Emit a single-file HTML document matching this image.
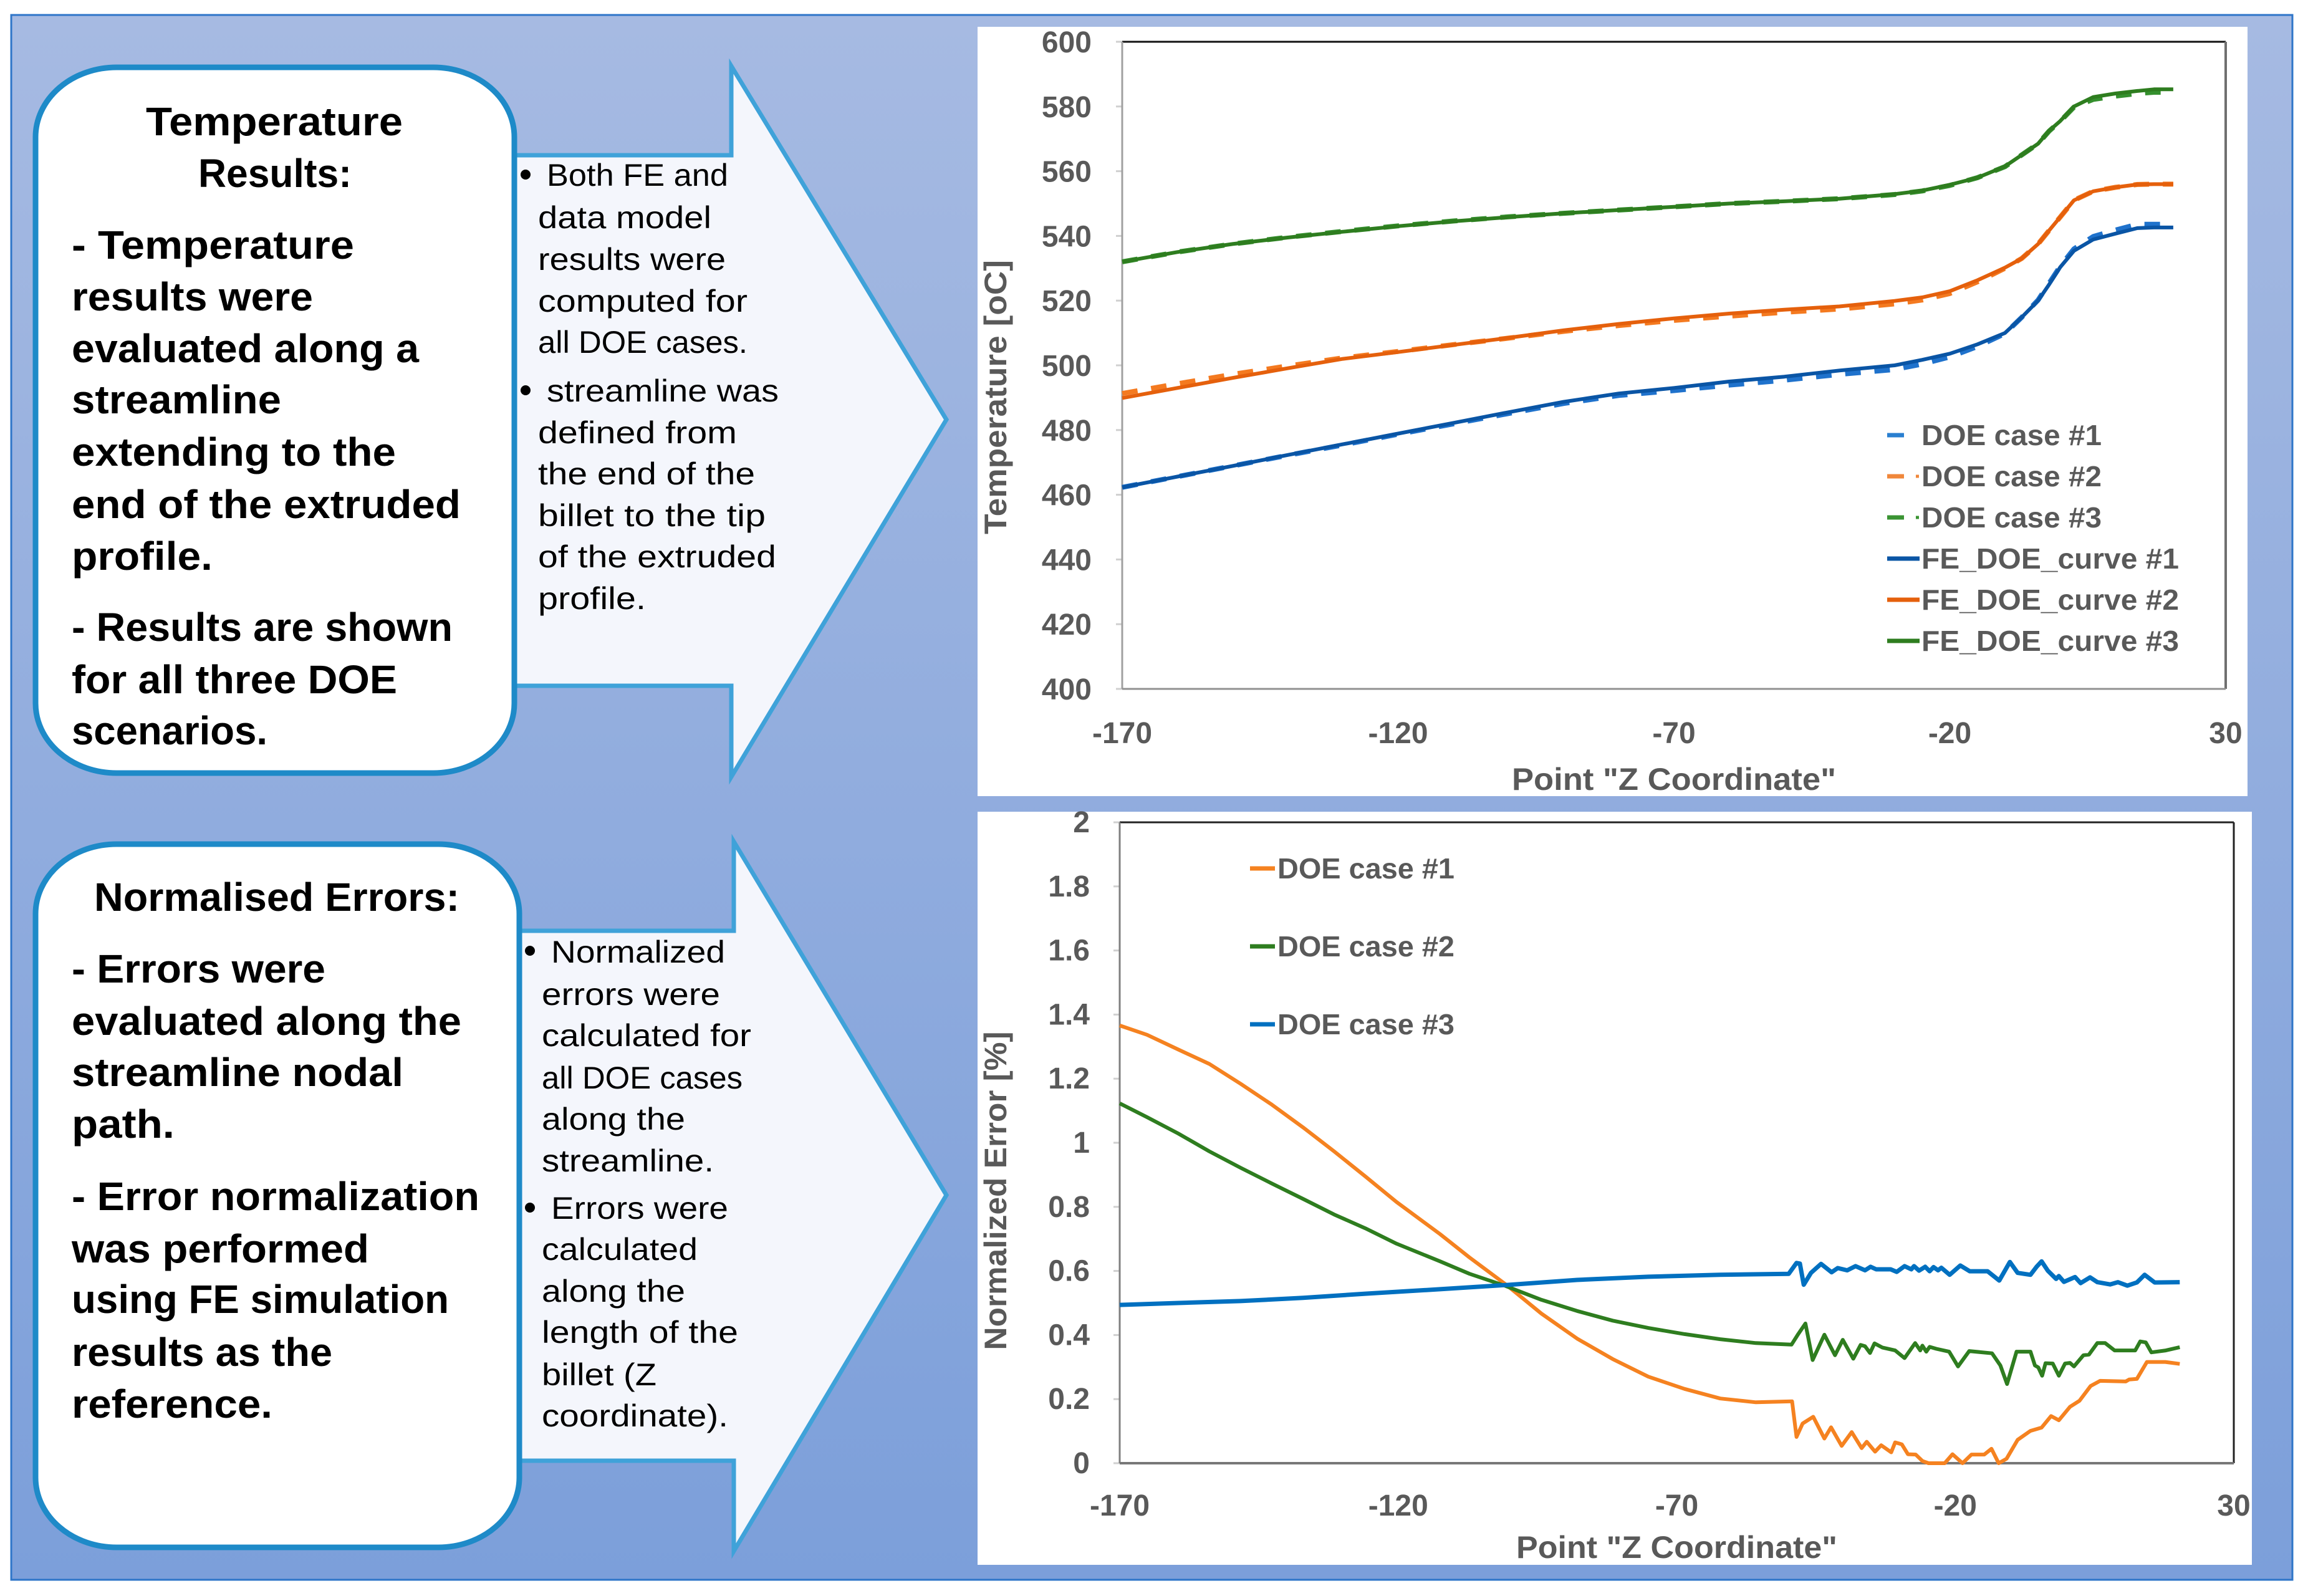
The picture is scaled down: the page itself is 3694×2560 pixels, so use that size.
<!DOCTYPE html>
<html lang="en">
<head>
<meta charset="utf-8">
<title>Temperature Results and Normalised Errors</title>
<style>
html,body{margin:0;padding:0;background:#fff;width:3694px;height:2560px;overflow:hidden}
svg{display:block}
text{font-family:"Liberation Sans",sans-serif}
.h{font-size:64px;font-weight:bold;fill:#000}
.b{font-size:50px;fill:#000}
.t{font-size:48px;font-weight:bold;fill:#595959}
.a{font-size:50px;font-weight:bold;fill:#595959}
.l{font-size:46px;font-weight:bold;fill:#595959}
</style>
</head>
<body>
<svg id="root" xmlns="http://www.w3.org/2000/svg" width="3694" height="2560" viewBox="0 0 3694 2560">
<defs>
<linearGradient id="bg" x1="0" y1="0" x2="0" y2="1">
<stop offset="0" stop-color="#a6bae2"/>
<stop offset="1" stop-color="#7c9fda"/>
</linearGradient>
</defs>
<rect x="18" y="24" width="3659" height="2510" fill="url(#bg)" stroke="#2e75c8" stroke-width="3"/>

<g>
<polygon points="825,249 1173,249 1173,106 1518,673 1173,1246 1173,1100 825,1100" fill="#f4f6fc" stroke="#3fa2d9" stroke-width="7" stroke-miterlimit="10"/>
<circle cx="843" cy="280" r="8" fill="#000"/>
<text class="b" x="877" y="298" textLength="291" lengthAdjust="spacingAndGlyphs">Both FE and</text>
<text class="b" x="863" y="366" textLength="278" lengthAdjust="spacingAndGlyphs">data model</text>
<text class="b" x="863" y="433" textLength="301" lengthAdjust="spacingAndGlyphs">results were</text>
<text class="b" x="863" y="500" textLength="336" lengthAdjust="spacingAndGlyphs">computed for</text>
<text class="b" x="863" y="566" textLength="336" lengthAdjust="spacingAndGlyphs">all DOE cases.</text>
<circle cx="843" cy="626" r="8" fill="#000"/>
<text class="b" x="877" y="644" textLength="372" lengthAdjust="spacingAndGlyphs">streamline was</text>
<text class="b" x="863" y="711" textLength="319" lengthAdjust="spacingAndGlyphs">defined from</text>
<text class="b" x="863" y="777" textLength="348" lengthAdjust="spacingAndGlyphs">the end of the</text>
<text class="b" x="863" y="844" textLength="365" lengthAdjust="spacingAndGlyphs">billet to the tip</text>
<text class="b" x="863" y="910" textLength="382" lengthAdjust="spacingAndGlyphs">of the extruded</text>
<text class="b" x="863" y="977" textLength="173" lengthAdjust="spacingAndGlyphs">profile.</text>
</g>

<g>
<rect x="57" y="108" width="768" height="1132" rx="130" ry="112" fill="#fff" stroke="#1e8ac8" stroke-width="9"/>
<text class="h" x="234" y="217" textLength="412" lengthAdjust="spacingAndGlyphs">Temperature</text>
<text class="h" x="318" y="300" textLength="246" lengthAdjust="spacingAndGlyphs">Results:</text>
<text class="h" x="115" y="415" textLength="453" lengthAdjust="spacingAndGlyphs">- Temperature</text>
<text class="h" x="115" y="498" textLength="387" lengthAdjust="spacingAndGlyphs">results were</text>
<text class="h" x="115" y="581" textLength="557" lengthAdjust="spacingAndGlyphs">evaluated along a</text>
<text class="h" x="115" y="663" textLength="336" lengthAdjust="spacingAndGlyphs">streamline</text>
<text class="h" x="115" y="747" textLength="520" lengthAdjust="spacingAndGlyphs">extending to the</text>
<text class="h" x="115" y="831" textLength="624" lengthAdjust="spacingAndGlyphs">end of the extruded</text>
<text class="h" x="115" y="914" textLength="226" lengthAdjust="spacingAndGlyphs">profile.</text>
<text class="h" x="115" y="1028" textLength="611" lengthAdjust="spacingAndGlyphs">- Results are shown</text>
<text class="h" x="115" y="1112" textLength="522" lengthAdjust="spacingAndGlyphs">for all three DOE</text>
<text class="h" x="115" y="1194" textLength="314" lengthAdjust="spacingAndGlyphs">scenarios.</text>
</g>

<g>
<polygon points="833,1493 1177,1493 1177,1350 1518,1917 1177,2488 1177,2343 833,2343" fill="#f4f6fc" stroke="#3fa2d9" stroke-width="7" stroke-miterlimit="10"/>
<circle cx="850" cy="1525" r="8" fill="#000"/>
<text class="b" x="884" y="1544" textLength="279" lengthAdjust="spacingAndGlyphs">Normalized</text>
<text class="b" x="869" y="1612" textLength="286" lengthAdjust="spacingAndGlyphs">errors were</text>
<text class="b" x="869" y="1678" textLength="336" lengthAdjust="spacingAndGlyphs">calculated for</text>
<text class="b" x="869" y="1746" textLength="322" lengthAdjust="spacingAndGlyphs">all DOE cases</text>
<text class="b" x="869" y="1812" textLength="230" lengthAdjust="spacingAndGlyphs">along the</text>
<text class="b" x="869" y="1879" textLength="276" lengthAdjust="spacingAndGlyphs">streamline.</text>
<circle cx="850" cy="1937" r="8" fill="#000"/>
<text class="b" x="884" y="1955" textLength="284" lengthAdjust="spacingAndGlyphs">Errors were</text>
<text class="b" x="869" y="2021" textLength="250" lengthAdjust="spacingAndGlyphs">calculated</text>
<text class="b" x="869" y="2088" textLength="230" lengthAdjust="spacingAndGlyphs">along the</text>
<text class="b" x="869" y="2154" textLength="315" lengthAdjust="spacingAndGlyphs">length of the</text>
<text class="b" x="869" y="2222" textLength="184" lengthAdjust="spacingAndGlyphs">billet (Z</text>
<text class="b" x="869" y="2288" textLength="299" lengthAdjust="spacingAndGlyphs">coordinate).</text>
</g>

<g>
<rect x="57" y="1354" width="776" height="1128" rx="130" ry="112" fill="#fff" stroke="#1e8ac8" stroke-width="9"/>
<text class="h" x="151" y="1461" textLength="586" lengthAdjust="spacingAndGlyphs">Normalised Errors:</text>
<text class="h" x="115" y="1576" textLength="407" lengthAdjust="spacingAndGlyphs">- Errors were</text>
<text class="h" x="115" y="1660" textLength="625" lengthAdjust="spacingAndGlyphs">evaluated along the</text>
<text class="h" x="115" y="1742" textLength="532" lengthAdjust="spacingAndGlyphs">streamline nodal</text>
<text class="h" x="115" y="1825" textLength="165" lengthAdjust="spacingAndGlyphs">path.</text>
<text class="h" x="115" y="1941" textLength="654" lengthAdjust="spacingAndGlyphs">- Error normalization</text>
<text class="h" x="115" y="2025" textLength="477" lengthAdjust="spacingAndGlyphs">was performed</text>
<text class="h" x="115" y="2106" textLength="605" lengthAdjust="spacingAndGlyphs">using FE simulation</text>
<text class="h" x="115" y="2191" textLength="418" lengthAdjust="spacingAndGlyphs">results as the</text>
<text class="h" x="115" y="2274" textLength="322" lengthAdjust="spacingAndGlyphs">reference.</text>
</g>

<g id="tempChart">
<rect x="1568" y="43" width="2037" height="1234" fill="#fff"/>
<text class="a" transform="translate(1614,637) rotate(-90)" text-anchor="middle" textLength="440" lengthAdjust="spacingAndGlyphs">Temperature [oC]</text>
<text class="a" x="2425" y="1267" textLength="520" lengthAdjust="spacingAndGlyphs">Point "Z Coordinate"</text>
</g>

<g id="errChart">
<rect x="1568" y="1302" width="2044" height="1208" fill="#fff"/>
<text class="a" transform="translate(1614,1910) rotate(-90)" text-anchor="middle" textLength="511" lengthAdjust="spacingAndGlyphs">Normalized Error [%]</text>
<text class="a" x="2432" y="2499" textLength="515" lengthAdjust="spacingAndGlyphs">Point "Z Coordinate"</text>
</g>
</svg>

<script>
const tempTicksY = [400,420,440,460,480,500,520,540,560,580,600];
const tempTicksX = [-170,-120,-70,-20,30];
const tempZ = [-170,-160,-150,-140,-130,-120,-110,-100,-90,-80,-70,-60,-50,-40,-30,-25,-20,-15,-10,-7,-4,-2,0,2.5,6,10,14,17,20.5];
const doe1Temp = [462.3,465.6,468.9,472.2,475.4,478.7,481.9,485.1,488.2,490.7,492.2,493.9,495.4,497.2,498.7,500.4,502.6,505.8,509.8,514.8,520.2,525.4,530.6,536,539.8,541.8,543.6,543.6,543.6];
const doe2Temp = [491.3,494.3,497.2,499.8,502.3,504.3,506.4,508.4,510.5,512.3,513.9,515.2,516.4,517.4,519,520.2,522.2,525.8,530,533,537.5,541.7,545.8,551,553.8,555,555.9,556,556];
const doe3Temp = [532,535,537.5,539.6,541.4,543.1,544.6,545.9,547,548,549,550,550.7,551.5,552.8,553.9,555.6,558,561.4,565,568.5,572.4,575.4,579.8,582.2,583.2,584,584.4,584.4];
const fe1Temp = [462.3,465.6,468.9,472.3,475.6,478.9,482.2,485.5,488.7,491.3,493,495,496.5,498.4,500,501.7,503.6,506.5,510,514.8,520,525,530.3,535.4,538.9,540.7,542.4,542.6,542.6];
const fe2Temp = [489.9,493,496.1,499.1,502,504.1,506.3,508.5,510.8,512.8,514.5,516,517.2,518.2,519.9,521,522.9,526.3,530.2,533,537.5,541.7,545.8,551,553.8,555,555.9,556,556];
const fe3Temp = [532,535,537.5,539.5,541.3,543,544.5,545.8,547,548,549,550,550.7,551.5,552.9,554,555.8,558,561.5,565,568.5,572.5,575.5,580,582.9,584,584.8,585.3,585.3];
const tempLegendLabels = ["DOE case #1","DOE case #2","DOE case #3","FE_DOE_curve #1","FE_DOE_curve #2","FE_DOE_curve #3"];

const errTicksY = ["0","0.2","0.4","0.6","0.8","1","1.2","1.4","1.6","1.8","2"];
const errTicksX = [-170,-120,-70,-20,30];
const errLegendLabels = ["DOE case #1","DOE case #2","DOE case #3"];
const case1Z = [-170,-165.1,-159.5,-153.9,-148.3,-142.7,-137.1,-131.5,-125.9,-120.3,-112.5,-107.2,-100.7,-94.3,-87.9,-81.5,-75.1,-68.6,-62.2,-55.8,-49.3,-48.5,-47.4,-45.5,-43.5,-42.3,-40.4,-38.6,-36.8,-35.9,-34.4,-33.3,-31.5,-30.8,-29.6,-28.5,-27.1,-25.9,-24.8,-21.9,-20.5,-18.7,-17.1,-14.8,-13.5,-12.2,-10.8,-8.8,-6.5,-4.5,-2.8,-1.4,0.6,2.3,4.3,6,10.6,11.2,12.6,14.4,17.7,20.3];
const case1Err = [1.366,1.337,1.291,1.246,1.184,1.119,1.048,0.973,0.895,0.815,0.715,0.642,0.558,0.467,0.389,0.325,0.27,0.232,0.202,0.19,0.193,0.082,0.124,0.145,0.077,0.112,0.054,0.097,0.047,0.067,0.036,0.056,0.034,0.065,0.059,0.028,0.027,0.007,0,0,0.028,0,0.027,0.027,0.045,0,0.014,0.073,0.101,0.111,0.147,0.134,0.176,0.195,0.241,0.257,0.255,0.261,0.263,0.316,0.316,0.31];
const case2Z = [-170,-165.1,-159.5,-153.9,-148.3,-142.7,-137.1,-131.5,-125.9,-120.3,-112.5,-107.2,-100.7,-94.3,-87.9,-81.5,-75.1,-68.6,-62.2,-55.8,-49.4,-48.2,-46.9,-45.6,-43.5,-41.6,-40.2,-38.3,-37,-36.2,-35.3,-34.5,-33.1,-30.8,-29.1,-27.2,-26.3,-25.9,-25.2,-24.6,-23.4,-21.1,-19.5,-17.5,-13.4,-11.9,-10.7,-9,-6.5,-5.7,-5.1,-4.4,-3.8,-2.5,-1.4,-0.3,0.6,1.3,3,4,5.5,6.9,8.6,12.3,13.2,14.2,15.2,17.8,20.3];
const case2Err = [1.123,1.08,1.029,0.973,0.922,0.873,0.825,0.776,0.733,0.685,0.63,0.591,0.553,0.51,0.475,0.445,0.422,0.403,0.387,0.375,0.37,0.403,0.436,0.322,0.401,0.337,0.385,0.326,0.369,0.365,0.344,0.374,0.361,0.352,0.328,0.375,0.352,0.367,0.348,0.363,0.357,0.348,0.302,0.35,0.343,0.305,0.247,0.348,0.348,0.305,0.299,0.273,0.312,0.311,0.273,0.311,0.313,0.302,0.337,0.339,0.375,0.375,0.352,0.352,0.38,0.377,0.346,0.352,0.362];
const case3Z = [-170,-159.5,-148.3,-137.1,-125.9,-112.5,-100.7,-87.9,-75.1,-62.2,-49.9,-48.5,-47.9,-47.2,-45.9,-44.1,-42.2,-41.1,-39.4,-37.9,-36.2,-35.2,-34.2,-31.6,-30.5,-29.1,-27.9,-27.4,-26.5,-25.4,-24.6,-23.9,-23.1,-22.5,-21,-19.1,-17.4,-14.2,-12.1,-10.2,-8.8,-6.5,-5.4,-4.5,-3.4,-1.9,-1.4,-0.5,1.5,2.5,4.2,5.5,7.8,9.2,10.9,12.6,14,15.8,20.3];
const case3Err = [0.494,0.5,0.506,0.516,0.529,0.543,0.556,0.572,0.582,0.588,0.591,0.625,0.623,0.557,0.594,0.622,0.596,0.609,0.602,0.615,0.602,0.613,0.605,0.605,0.597,0.615,0.605,0.615,0.601,0.613,0.599,0.612,0.602,0.61,0.588,0.617,0.599,0.599,0.57,0.628,0.594,0.588,0.613,0.63,0.601,0.575,0.584,0.566,0.581,0.562,0.58,0.565,0.558,0.565,0.554,0.564,0.588,0.564,0.565];

const NS = 'http://www.w3.org/2000/svg';

function makeScale(d0, d1, p0, p1) {
  return function (v) { return p0 + (v - d0) / (d1 - d0) * (p1 - p0); };
}
function seg(parent, x1, y1, x2, y2, color, width) {
  const el = document.createElementNS(NS, 'line');
  el.setAttribute('x1', x1);
  el.setAttribute('y1', y1);
  el.setAttribute('x2', x2);
  el.setAttribute('y2', y2);
  el.setAttribute('stroke', color);
  el.setAttribute('stroke-width', width);
  parent.appendChild(el);
  return el;
}
function label(parent, cls, x, y, str, anchor) {
  const el = document.createElementNS(NS, 'text');
  el.setAttribute('class', cls);
  el.setAttribute('x', x);
  el.setAttribute('y', y);
  if (anchor) el.setAttribute('text-anchor', anchor);
  el.textContent = str;
  parent.appendChild(el);
  return el;
}
function series(parent, xs, ys, sx, sy, color, width, dash) {
  const el = document.createElementNS(NS, 'polyline');
  el.setAttribute('points', xs.map(function (x, i) { return sx(x).toFixed(1) + ',' + sy(ys[i]).toFixed(1); }).join(' '));
  el.setAttribute('fill', 'none');
  el.setAttribute('stroke', color);
  el.setAttribute('stroke-width', width);
  el.setAttribute('stroke-linejoin', 'round');
  if (dash) el.setAttribute('stroke-dasharray', dash);
  parent.appendChild(el);
  return el;
}

/* Temperature chart */
(function () {
  const g = document.getElementById('tempChart');
  const sx = makeScale(-170, 30, 1800, 3570);
  const sy = makeScale(400, 600, 1105, 67);

  tempTicksY.forEach(function (v) {
    const tick = seg(g, sx(-170) - 10, sy(v), sx(-170), sy(v), '#d0d0d0', 3);
    
    
    const t = label(g, 't', 1751, sy(v) + 17, String(v), 'end');
    
    
  });
  tempTicksX.forEach(function (v) {
    const t = label(g, 't', sx(v), 1192, String(v), 'middle');
    
    
  });

  const top = seg(g, 1800, 67, 3570, 67, '#111111', 3);
  
  
  const right = seg(g, 3570, 67, 3570, 1105, '#707070', 4);
  
  
  const left = seg(g, 1800, 67, 1800, 1105, '#a0a0a0', 3);
  
  
  const bottom = seg(g, 1800, 1105, 3570, 1105, '#909090', 3);
  
  

  const d1 = series(g, tempZ, doe1Temp, sx, sy, '#1f72cc', 8, '25 22');
  
  
  const d2 = series(g, tempZ, doe2Temp, sx, sy, '#f47a20', 8, '25 22');
  
  
  const d3 = series(g, tempZ, doe3Temp, sx, sy, '#35902e', 8, '25 22');
  
  
  const f1 = series(g, tempZ, fe1Temp, sx, sy, '#0a55a5', 6);
  
  
  const f2 = series(g, tempZ, fe2Temp, sx, sy, '#e5600c', 6);
  
  
  const f3 = series(g, tempZ, fe3Temp, sx, sy, '#2e7d1f', 6);
  
  

  const colors = ['#2a7fd0', '#f0873a', '#3a9433', '#0a55a5', '#e5600c', '#2e7d1f'];
  const lens = [289, 289, 289, 413, 413, 413];
  tempLegendLabels.forEach(function (name, i) {
    const y = 698 + i * 66;
    const solid = i >= 3;
    const key = seg(g, 3027, y, solid ? 3079 : 3054, y, colors[i], 7);
    
    
    if (i === 1 || i === 2) {
      const dot = seg(g, 3073, y, 3078, y, colors[i], 5);
      
      
    }
    const t = label(g, 'l', 3082, y + 16, name);
    t.setAttribute('textLength', lens[i]);
    t.setAttribute('lengthAdjust', 'spacingAndGlyphs');
    
    
  });
})();

/* Normalized error chart */
(function () {
  const g = document.getElementById('errChart');
  const sx = makeScale(-170, 30, 1796, 3583);
  const sy = makeScale(0, 2, 2347, 1319);

  errTicksY.forEach(function (v) {
    const tick = seg(g, sx(-170) - 10, sy(Number(v)), sx(-170), sy(Number(v)), '#d0d0d0', 3);
    
    
    const t = label(g, 't', 1748, sy(Number(v)) + 16, v, 'end');
    
    
  });
  errTicksX.forEach(function (v) {
    const t = label(g, 't', sx(v), 2431, String(v), 'middle');
    
    
  });

  const top = seg(g, 1796, 1319, 3583, 1319, '#222222', 3);
  
  
  const right = seg(g, 3583, 1319, 3583, 2347, '#222222', 3);
  
  
  const left = seg(g, 1796, 1319, 1796, 2347, '#808080', 3);
  
  
  const bottom = seg(g, 1796, 2347, 3583, 2347, '#777777', 4);
  
  

  const s1 = series(g, case1Z, case1Err, sx, sy, '#f58220', 6);
  
  
  const s2 = series(g, case2Z, case2Err, sx, sy, '#2e7d1f', 6);
  
  
  const s3 = series(g, case3Z, case3Err, sx, sy, '#0070c0', 7);
  
  

  const colors = ['#f58220', '#2e7d1f', '#0070c0'];
  errLegendLabels.forEach(function (name, i) {
    const y = 1393 + i * 125;
    const key = seg(g, 2005, y, 2045, y, colors[i], 7);
    
    
    const t = label(g, 'l', 2049, y + 16, name);
    t.setAttribute('textLength', 284);
    t.setAttribute('lengthAdjust', 'spacingAndGlyphs');
    
    
  });
})();
</script>
</body>
</html>
